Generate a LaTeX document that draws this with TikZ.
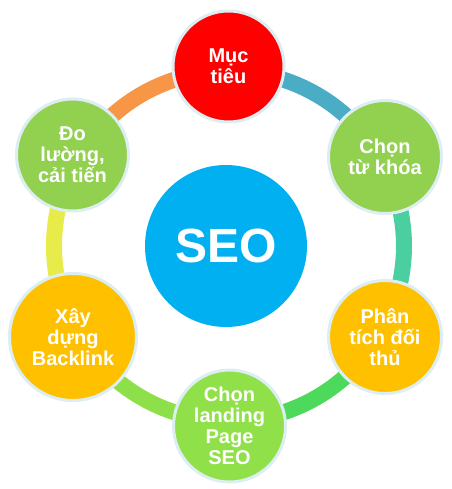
\documentclass[tikz,border=0pt]{standalone}
\usepackage{fontspec}
\setmainfont{Liberation Sans}
\definecolor{cred}{HTML}{FF0000}
\definecolor{cgreen}{HTML}{92D050}
\definecolor{clight}{HTML}{90E04A}
\definecolor{corange}{HTML}{FFC000}
\definecolor{cblue}{HTML}{00B0F0}
\definecolor{cborder}{HTML}{DCEEF2}
\definecolor{aorange}{HTML}{F79646}
\definecolor{ayellow}{HTML}{E8EC4A}
\definecolor{alight}{HTML}{8EE04A}
\definecolor{agreen}{HTML}{4CD95C}
\definecolor{ateal}{HTML}{4BCFA0}
\definecolor{ablue}{HTML}{4BACC6}
\begin{document}
\begin{tikzpicture}[x=0.75pt,y=0.75pt,
  bubble/.style={circle, draw=cborder, line width=2.25pt, fill=#1, inner sep=-4pt,
    align=center, text=white, font=\fontsize{15pt}{15.75pt}\selectfont\bfseries},
  ringarc/.style={line width=12pt, draw=#1},
  hub/.style={circle, fill=cblue, inner sep=0pt, minimum size=121.5pt,
    text=white, font=\fontsize{36pt}{40pt}\selectfont\bfseries}]
\useasboundingbox (0,0) rectangle (452,489);
\fill[white] (0,0) rectangle (452,489);
\coordinate (c) at (229,243);
\foreach \a/\col in {90/aorange,150/ayellow,210/alight,270/agreen,330/ateal,30/ablue}{
  \draw[ringarc=\col] ([shift={(c)}]\a:131.25pt) arc[start angle=\a, end angle=\a+60, radius=131.25pt];
}
\node[hub] (seo) at (226,243) {SEO};
\node[bubble=cred, minimum size=83.25pt] (muc) at (228.5,422.5) {Mục\\tiêu};
\node[bubble=cgreen, minimum size=84.75pt] (tukhoa) at (385,332) {Chọn\\từ khóa};
\node[bubble=corange, minimum size=84.75pt] (phantich) at (385,152) {Phân\\tích đối\\thủ};
\node[bubble=clight, minimum size=84pt] (landing) at (229.5,63) {Chọn\\landing\\Page\\SEO};
\node[bubble=corange, minimum size=95.25pt] (backlink) at (73,152) {Xây\\dựng\\Backlink};
\node[bubble=cgreen, minimum size=84pt] (doluong) at (72.5,334) {Đo\\lường,\\cải tiến};
\end{tikzpicture}
\end{document}
